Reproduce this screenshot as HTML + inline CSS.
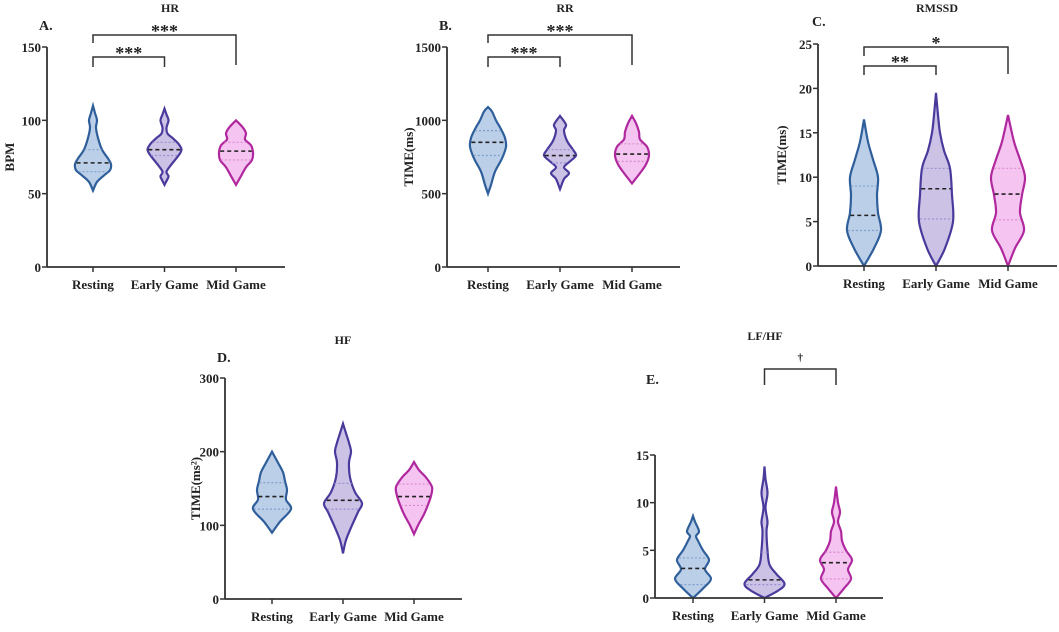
<!DOCTYPE html>
<html><head><meta charset="utf-8">
<style>
body{margin:0;background:#fff;width:1059px;height:627px;overflow:hidden}
svg text{font-family:"Liberation Serif",serif;font-weight:bold;fill:#222}
</style></head><body>
<svg id="fig" width="1059" height="627" xmlns="http://www.w3.org/2000/svg"></svg>
<script>
// ---- data ----
const categories = ["Resting","Early Game","Mid Game"];
const hrProfiles = [
 [[52,0],[58,4],[63,12],[66,17],[70,18],[74,15],[80,9],[88,5],[95,3],[100,4],[105,2],[110,0]],
 [[56,0],[60,3],[62,4],[65,2],[70,7],[76,14],[80,17],[84,14],[88,8],[91,3],[95,2],[100,4],[104,2],[108,0]],
 [[56,0],[62,5],[68,10],[73,16],[78,17],[83,15],[87,9],[91,10],[95,7],[100,0]]];
const hrQuart = [[65,71,80],[76,80,85],[73,79,85]];
const rrProfiles = [
 [[500,0],[560,3],[650,7],[740,14],[820,18],[880,17],[940,13],[1000,8],[1060,4],[1090,0]],
 [[530,0],[600,4],[640,9],[680,4],[720,10],[760,16],[800,13],[860,7],[930,4],[970,6],[1030,0]],
 [[570,0],[640,8],[700,14],[760,17],[820,15],[870,8],[920,7],[980,4],[1030,0]]];
const rrQuart = [[760,850,930],[710,760,800],[720,770,840]];
const rmssdProfiles = [
 [[0,0],[2,10],[4,17],[6,14],[8,13],[10,14],[12,9],[14,4],[16.5,0]],
 [[0,0],[2,9],[5,17],[8,16],[11,14],[13,8],[15,4],[17,2],[19.5,0]],
 [[0,0],[2,7],[4,16],[6,12],[8,14],[10,17],[12,12],[14,6],[17,0]]];
const rmssdQuart = [[4,5.7,9],[5.3,8.7,11],[5.2,8.1,11]];
const hfProfiles = [
 [[90,0],[105,8],[122,19],[135,14],[148,15],[160,13],[172,11],[185,6],[200,0]],
 [[62,0],[80,3],[100,9],[118,15],[130,19],[145,12],[165,7],[185,6],[200,8],[212,6],[225,3],[238,0]],
 [[88,0],[100,4],[115,10],[128,14],[140,17],[152,18],[165,12],[175,5],[186,0]]];
const hfQuart = [[122,139,158],[122,134,157],[127,139,156]];
const lfhfProfiles = [
 [[0,0],[1,10],[2,18],[3,12],[4,16],[5,10],[6,5],[6.5,3],[7,6],[8,2],[8.6,0]],
 [[0,0],[0.8,14],[1.5,20],[2.5,12],[3.5,5],[5,3],[7,2],[8,3],[9.5,1],[11,3],[12.5,1],[13.8,0]],
 [[0,0],[1,8],[2,15],[3,12],[4,16],[5,10],[6,6],[7,5],[8,2],[9,4],[10,2],[11.7,0]]];
const lfhfQuart = [[1.4,3.1,4.2],[1.4,1.9,4.8],[2,3.7,4.8]];
const hrTicks=[0,50,100,150], rrTicks=[0,500,1000,1500], rmssdTicks=[0,5,10,15,20,25], hfTicks=[0,100,200,300], lfhfTicks=[0,5,10,15];

const strokes=["#2f5f9b","#4a3a9c","#b0289e"], fills=["#bccfe8","#cbc2e6","#f5c4f0"], qcol=["#7f9fcc","#9a8fd0","#d98bd0"];
const NS="http://www.w3.org/2000/svg", svg=document.getElementById("fig");
function mk(tag,attrs,parent,name){const e=document.createElementNS(NS,tag);for(const k in attrs)e.setAttribute(k,attrs[k]);
 
 
 (parent||svg).appendChild(e);return e;}
function txt(x,y,s,size,parent,name,anchor,rot){const t=mk("text",{x:x,y:y,"font-size":size,"text-anchor":anchor||"middle"},parent,name);if(rot)t.setAttribute("transform",`rotate(-90 ${x} ${y})`);t.textContent=s;return t;}
function widthAt(p,v){for(let i=0;i<p.length-1;i++){if(v>=p[i][0]&&v<=p[i+1][0]){const f=(v-p[i][0])/(p[i+1][0]-p[i][0]);return p[i][1]+f*(p[i+1][1]-p[i][1]);}}return 0;}
function smooth(pts){let d=`M${pts[0][0]},${pts[0][1]}`;for(let i=0;i<pts.length-1;i++){const p0=pts[Math.max(0,i-1)],p1=pts[i],p2=pts[i+1],p3=pts[Math.min(pts.length-1,i+2)];
 d+=` C${p1[0]+(p2[0]-p0[0])/6},${p1[1]+(p2[1]-p0[1])/6} ${p2[0]-(p3[0]-p1[0])/6},${p2[1]-(p3[1]-p1[1])/6} ${p2[0]},${p2[1]}`;}return d;}

function panel(cfg){
 const g=mk("g",{},svg,cfg.name);
 const y=v=>cfg.y0-(v/cfg.ticks[cfg.ticks.length-1])*(cfg.y0-cfg.yTop);
 const xs=categories.map((c,i)=>cfg.x1+i*cfg.dx);
 cfg.profiles.forEach((p,i)=>{
  const cx=xs[i];
  const right=p.map(q=>[cx+q[1],y(q[0])]), left=p.slice().reverse().map(q=>[cx-q[1],y(q[0])]);
  const d=smooth(right)+" L"+smooth(left).slice(1)+" Z";
  mk("path",{d:d,fill:fills[i],stroke:strokes[i],"stroke-width":2.2},g,"violin-"+categories[i].toLowerCase().replace(" ","-"));
  cfg.quart[i].forEach((v,k)=>{const w=widthAt(p,v)*0.95;
   mk("line",{x1:cx-w,x2:cx+w,y1:y(v),y2:y(v),stroke:k==1?"#222":qcol[i],"stroke-width":k==1?1.6:1.2,"stroke-dasharray":k==1?"4,3":"2,2"},g,k==1?"median-line":"quartile-line");});
 });
 mk("line",{x1:cfg.ax,x2:cfg.ax,y1:cfg.yTop,y2:cfg.y0,stroke:"#333","stroke-width":1.8},g,"y-axis");
 mk("line",{x1:cfg.ax,x2:cfg.xEnd,y1:cfg.y0,y2:cfg.y0,stroke:"#333","stroke-width":1.8},g,"x-axis");
 cfg.ticks.forEach(t=>{mk("line",{x1:cfg.ax-5,x2:cfg.ax,y1:y(t),y2:y(t),stroke:"#333","stroke-width":1.5},g,"y-tick");
  txt(cfg.ax-6,y(t)+5,t,13,g,"y-tick-label","end");});
 xs.forEach((x,i)=>{mk("line",{x1:x,x2:x,y1:cfg.y0,y2:cfg.y0+5,stroke:"#333","stroke-width":1.5},g,"x-tick");
  txt(x,cfg.y0+22,categories[i],13,g,"x-tick-label");});
 txt(cfg.ylx,(cfg.y0+cfg.yTop)/2,cfg.ylabel,13,g,"y-axis-title","middle",true);
 txt(cfg.titleX,cfg.titleY,cfg.title,12,g,"chart-title");
 txt(cfg.letterX,cfg.letterY,cfg.letter,14,g,"panel-letter","start");
 (cfg.brackets||[]).forEach(b=>{const xa=xs[b[0]],xb=xs[b[1]];
  mk("path",{d:`M${xa},${b[3]} V${b[2]} H${xb} V${b[4]}`,fill:"none",stroke:"#333","stroke-width":1.5},g,"significance-bracket");
  txt((xa+xb)/2,b[5]=="†"?b[2]-8:b[2]+2,b[5],b[5]=="†"?11:18,g,"significance-marker");});
}
panel({name:"panel-hr",ax:47,x1:93,dx:71.5,xEnd:285,y0:267,yTop:47,ticks:hrTicks,profiles:hrProfiles,quart:hrQuart,ylabel:"BPM",ylx:14,title:"HR",titleX:170,titleY:12,letter:"A.",letterX:39,letterY:30,
 brackets:[[0,1,57,67,67,"***"],[0,2,35,43,65,"***"]]});
panel({name:"panel-rr",ax:447,x1:488,dx:72,xEnd:680,y0:267,yTop:47,ticks:rrTicks,profiles:rrProfiles,quart:rrQuart,ylabel:"TIME(ms)",ylx:413,title:"RR",titleX:565,titleY:12,letter:"B.",letterX:439,letterY:30,
 brackets:[[0,1,57,67,67,"***"],[0,2,35,43,65,"***"]]});
panel({name:"panel-rmssd",ax:818,x1:864,dx:72,xEnd:1057,y0:266,yTop:44,ticks:rmssdTicks,profiles:rmssdProfiles,quart:rmssdQuart,ylabel:"TIME(ms)",ylx:786,title:"RMSSD",titleX:937,titleY:12,letter:"C.",letterX:812,letterY:26,
 brackets:[[0,1,66,75,75,"**"],[0,2,47,56,74,"*"]]});
panel({name:"panel-hf",ax:225,x1:272,dx:71,xEnd:462,y0:599,yTop:378,ticks:hfTicks,profiles:hfProfiles,quart:hfQuart,ylabel:"TIME(ms²)",ylx:200,title:"HF",titleX:343,titleY:344,letter:"D.",letterX:217,letterY:362});
panel({name:"panel-lfhf",ax:655,x1:693,dx:71.5,xEnd:883,y0:598,yTop:455,ticks:lfhfTicks,profiles:lfhfProfiles,quart:lfhfQuart,ylabel:"",ylx:620,title:"LF/HF",titleX:765,titleY:340,letter:"E.",letterX:646,letterY:384,
 brackets:[[1,2,369,385,385,"†"]]});
</script>
</body></html>
